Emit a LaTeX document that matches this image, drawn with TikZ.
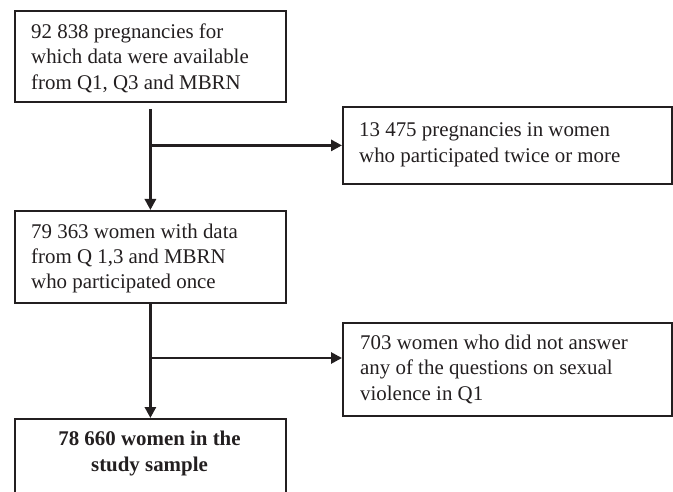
\documentclass[tikz,border=0pt]{standalone}
\usepackage{fontspec}
\setmainfont{Liberation Serif}
\usetikzlibrary{arrows.meta,calc}
\definecolor{ink}{HTML}{231F20}
\tikzset{
  box/.style={draw=ink, line width=1.8pt, inner sep=0pt, anchor=north west},
  txt/.style={inner sep=0pt, anchor=base west, align=left, text=ink,
    font=\fontsize{20.9}{25.5}\selectfont},
  btxt/.style={inner sep=0pt, anchor=base, align=center, text=ink,
    font=\fontsize{20.9}{25.5}\selectfont\bfseries},
  flow/.style={draw=ink, line width=2.8pt, -{Triangle[length=11pt,width=11pt]}}
}
\begin{document}
\begin{tikzpicture}[x=1pt,y=-1pt]
\useasboundingbox (0,0) rectangle (673,492);
\clip (0,0) rectangle (673,492);
% boxes
\node[box, minimum width=271pt, minimum height=91pt] (b1) at (14,10) {};
\node[box, minimum width=329pt, minimum height=77pt] (b2) at (342,106) {};
\node[box, minimum width=271pt, minimum height=92pt] (b3) at (14,210) {};
\node[box, minimum width=329pt, minimum height=93pt] (b4) at (342,322) {};
\node[box, minimum width=271pt, minimum height=100pt] (b5) at (14,418) {};
% texts (anchored at the baseline of their last line)
\node[txt] (t1) at (31,89.5) {92 838 pregnancies for\\which data were available\\from Q1, Q3 and MBRN};
\node[txt] (t2) at (359,162.5) {13 475 pregnancies in women\\who participated twice or more};
\node[txt] (t3) at (31,289) {79 363 women with data\\from Q 1,3 and MBRN\\who participated once};
\node[txt] (t4) at (360,400) {703 women who did not answer\\any of the questions on sexual\\violence in Q1};
\node[btxt] (t5) at (149.5,471) {78 660 women in the\\study sample};
% connectors
\coordinate (s1) at ($(b1.south)+(0,6)$);
\coordinate (j1) at (b2.west -| b1.south);
\coordinate (j2) at (149.5,358);
\coordinate (e2) at (342,358);
\draw[flow] (s1) -- (b3.north);
\draw[flow] (j1) -- (b2.west);
\draw[flow] (b3.south) -- (b5.north);
\draw[flow] (j2) -- (e2);
\end{tikzpicture}
\end{document}
